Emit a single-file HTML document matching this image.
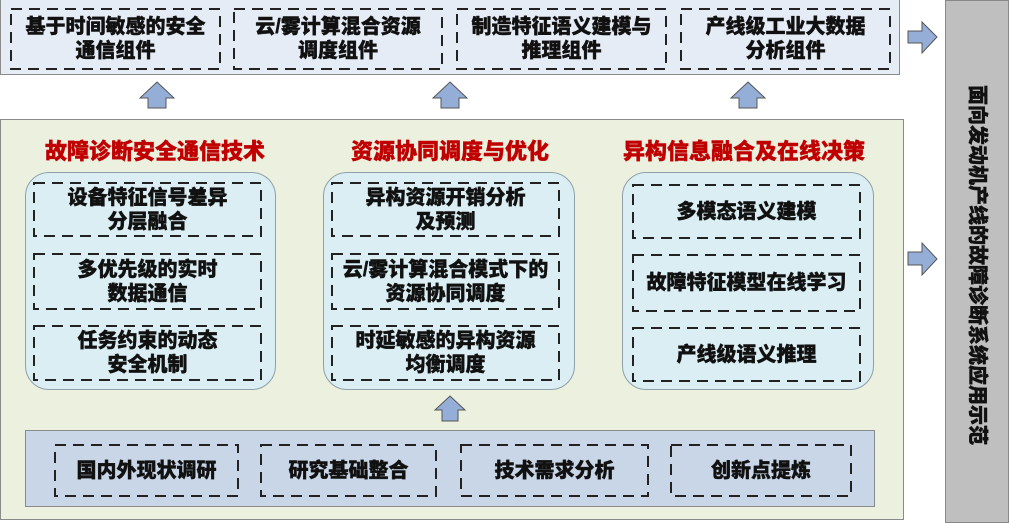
<!DOCTYPE html>
<html><head><meta charset="utf-8"><style>
*{margin:0;padding:0;box-sizing:border-box}
body{width:1009px;height:523px;background:#fff;position:relative;overflow:hidden;font-family:"Liberation Sans","Noto Sans CJK SC",sans-serif;font-weight:bold;color:#111}
.a{position:absolute}
.d{position:absolute;display:flex;align-items:center;justify-content:center;text-align:center;font-size:20px;line-height:24px;font-weight:900;-webkit-text-stroke:0.4px #111}
.t{position:absolute;color:#c00000;font-size:22px;text-align:center;width:300px;font-weight:900;-webkit-text-stroke:0.4px #c00000}
.r{position:absolute;background:#daeef3;border:1px solid #8fa0a8;border-radius:24px}
</style></head><body>
<div class="a" style="left:0;top:0;width:900px;height:75px;background:#e6ecf6;border:1px solid #8a8a8a;border-top:none"></div>
<div class="d" style="left:10px;top:8px;width:211px;height:62px">基于时间敏感的安全<br>通信组件</div>
<div class="d" style="left:233px;top:8px;width:210px;height:62px">云/雾计算混合资源<br>调度组件</div>
<div class="d" style="left:456px;top:8px;width:211px;height:62px">制造特征语义建模与<br>推理组件</div>
<div class="d" style="left:680px;top:8px;width:211px;height:62px">产线级工业大数据<br>分析组件</div>

<div class="a" style="left:0;top:119px;width:904px;height:401px;background:#ebf1de;border:1px solid #8a8a8a"></div>
<div class="t" style="left:5px;top:134px">故障诊断安全通信技术</div>
<div class="t" style="left:300px;top:134px">资源协同调度与优化</div>
<div class="t" style="left:594px;top:134px">异构信息融合及在线决策</div>

<div class="r" style="left:25px;top:172px;width:251px;height:218px"></div>
<div class="r" style="left:323px;top:172px;width:252px;height:218px"></div>
<div class="r" style="left:622px;top:172px;width:252px;height:218px"></div>
<div class="a" style="left:25px;top:430px;width:850px;height:77px;background:#c9d6e7;border:1px solid #8a8a8a"></div>
<div class="a" style="left:945px;top:0;width:64px;height:523px;background:#bfbfbf;border:1px solid #888"></div>

<svg class="a" style="left:0;top:0" width="1009" height="523">
<g fill="#95aed8" stroke="#555" stroke-width="1">
<polygon points="157,82 174,98 166,98 166,108 148,108 148,98 140,98"/>
<polygon points="450,82 467,98 459,98 459,108 441,108 441,98 433,98"/>
<polygon points="748,82 765,98 757,98 757,108 739,108 739,98 731,98"/>
<polygon points="450,396 465,410 458,410 458,421 442,421 442,410 435,410"/>
<polygon points="908,31 922,31 922,22 937,37 922,53 922,43 908,43"/>
<polygon points="908,252 922,252 922,243 937,259 922,275 922,265 908,265"/>
</g>
<g fill="none" stroke="#222" stroke-width="2" stroke-dasharray="11 7">
<rect x="11" y="9" width="209" height="60"/>
<rect x="234" y="9" width="208" height="60"/>
<rect x="457" y="9" width="209" height="60"/>
<rect x="681" y="9" width="209" height="60"/>
<rect x="34" y="183" width="227" height="53"/>
<rect x="34" y="254" width="227" height="55"/>
<rect x="34" y="326" width="227" height="54"/>
<rect x="332" y="183" width="227" height="53"/>
<rect x="332" y="254" width="227" height="55"/>
<rect x="332" y="326" width="227" height="54"/>
<rect x="633" y="185" width="227" height="53"/>
<rect x="633" y="255" width="227" height="56"/>
<rect x="633" y="328" width="227" height="53"/>
<rect x="55" y="445" width="183" height="51"/>
<rect x="261" y="445" width="175" height="51"/>
<rect x="461" y="445" width="187" height="51"/>
<rect x="671" y="445" width="180" height="51"/>
</g></svg>

<div class="d" style="left:33px;top:182px;width:229px;height:55px">设备特征信号差异<br>分层融合</div>
<div class="d" style="left:33px;top:253px;width:229px;height:57px">多优先级的实时<br>数据通信</div>
<div class="d" style="left:33px;top:325px;width:229px;height:56px">任务约束的动态<br>安全机制</div>
<div class="d" style="left:331px;top:182px;width:229px;height:55px">异构资源开销分析<br>及预测</div>
<div class="d" style="left:331px;top:253px;width:229px;height:57px">云/雾计算混合模式下的<br>资源协同调度</div>
<div class="d" style="left:331px;top:325px;width:229px;height:56px">时延敏感的异构资源<br>均衡调度</div>
<div class="d" style="left:632px;top:184px;width:229px;height:55px">多模态语义建模</div>
<div class="d" style="left:632px;top:254px;width:229px;height:58px">故障特征模型在线学习</div>
<div class="d" style="left:632px;top:327px;width:229px;height:55px">产线级语义推理</div>
<div class="d" style="left:54px;top:444px;width:185px;height:53px">国内外现状调研</div>
<div class="d" style="left:260px;top:444px;width:177px;height:53px">研究基础整合</div>
<div class="d" style="left:460px;top:444px;width:189px;height:53px">技术需求分析</div>
<div class="d" style="left:670px;top:444px;width:182px;height:53px">创新点提炼</div>

<div class="a" style="left:797px;top:253px;width:360px;height:24px;transform:rotate(90deg);text-align:center;font-size:20px;line-height:24px;font-weight:900;-webkit-text-stroke:0.4px #111">面向发动机产线的故障诊断系统应用示范</div>
</body></html>
